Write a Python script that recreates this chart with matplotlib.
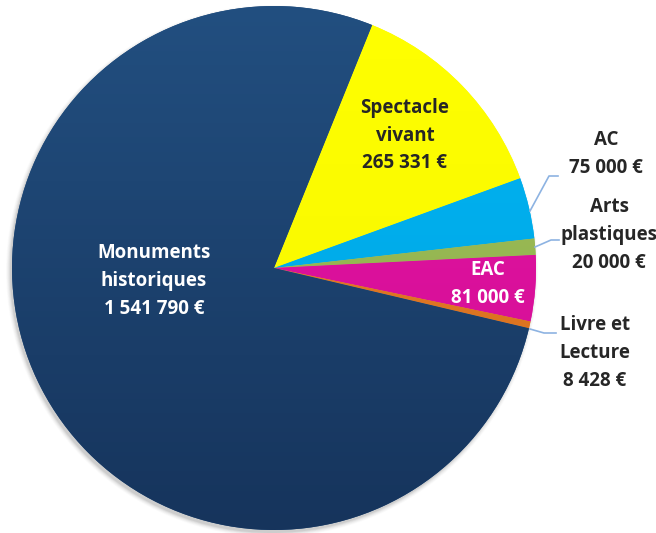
import matplotlib.pyplot as plt
import numpy as np
from matplotlib.colors import LinearSegmentedColormap
from matplotlib.patches import Circle

plt.rcParams['font.family'] = ['Open Sans', 'DejaVu Sans']
plt.rcParams['font.weight'] = 'bold'

# budget par domaine (euros)
domaines = ['Spectacle\nvivant', 'AC', 'Arts\nplastiques', 'EAC', 'Livre et\nLecture', 'Monuments\nhistoriques']
montants = [265331, 75000, 20000, 81000, 8428, 1541790]
couleurs_haut = ['#ffff00', '#00b4f4', '#a2c25e', '#e313a3', '#e8802a', '#224f80']
couleurs_bas = ['#f5f500', '#00a4e0', '#8aab45', '#d20f94', '#d56d1c', '#16345c']

def fmt_euro(v):
    return '{:,}'.format(v).replace(',', ' ') + ' €'

W, H = 656, 533
fig = plt.figure(figsize=(W / 100, H / 100), dpi=100)
ax = fig.add_axes([0, 0, 1, 1])

cx, cy, r = 274, H - 268, 262

# ombre douce sous le disque
for i, a in enumerate(np.linspace(0.05, 0.015, 6)):
    ax.add_patch(Circle((cx - 2, cy - 3), r + i * 0.8, color='black', alpha=a, lw=0, zorder=0))

wedges, _ = ax.pie(montants, colors=couleurs_haut, startangle=68, counterclock=False,
                   center=(cx, cy), radius=r, frame=True,
                   wedgeprops=dict(linewidth=0))

# léger dégradé vertical dans chaque part
grad = np.linspace(0, 1, 256).reshape(-1, 1)
for w, c1, c2 in zip(wedges, couleurs_haut, couleurs_bas):
    cmap = LinearSegmentedColormap.from_list('g', [c2, c1])
    im = ax.imshow(grad, cmap=cmap, origin='lower', aspect='auto',
                   extent=[cx - r, cx + r, cy - r, cy + r], zorder=2)
    im.set_clip_path(w)
ax.set_xlim(0, W)
ax.set_ylim(0, H)
ax.axis('off')

fs = 13.5
txt_fonce = '#262626'

def etiquette(x, y, nom, val, col):
    ax.text(x, H - y, nom + '\n' + fmt_euro(val), ha='center', va='center',
            color=col, fontsize=fs, fontweight='bold', linespacing=1.5, zorder=5)

etiquette(154, 281, domaines[5], montants[5], 'white')
etiquette(405, 136, domaines[0], montants[0], txt_fonce)
etiquette(606, 154, domaines[1], montants[1], txt_fonce)
etiquette(609, 235, domaines[2], montants[2], txt_fonce)
etiquette(488, 284, domaines[3], montants[3], 'white')
etiquette(595, 353, domaines[4], montants[4], txt_fonce)

# traits de rappel
trait = '#8db3e2'
for xs, ys in [([530, 549, 558], [211, 176, 176]),
               ([535, 551, 559], [247, 240, 240]),
               ([530, 544, 556], [329, 333, 333])]:
    ax.plot(xs, [H - y for y in ys], color=trait, lw=1.2, zorder=4)

fig.savefig('out.png', dpi=100)
